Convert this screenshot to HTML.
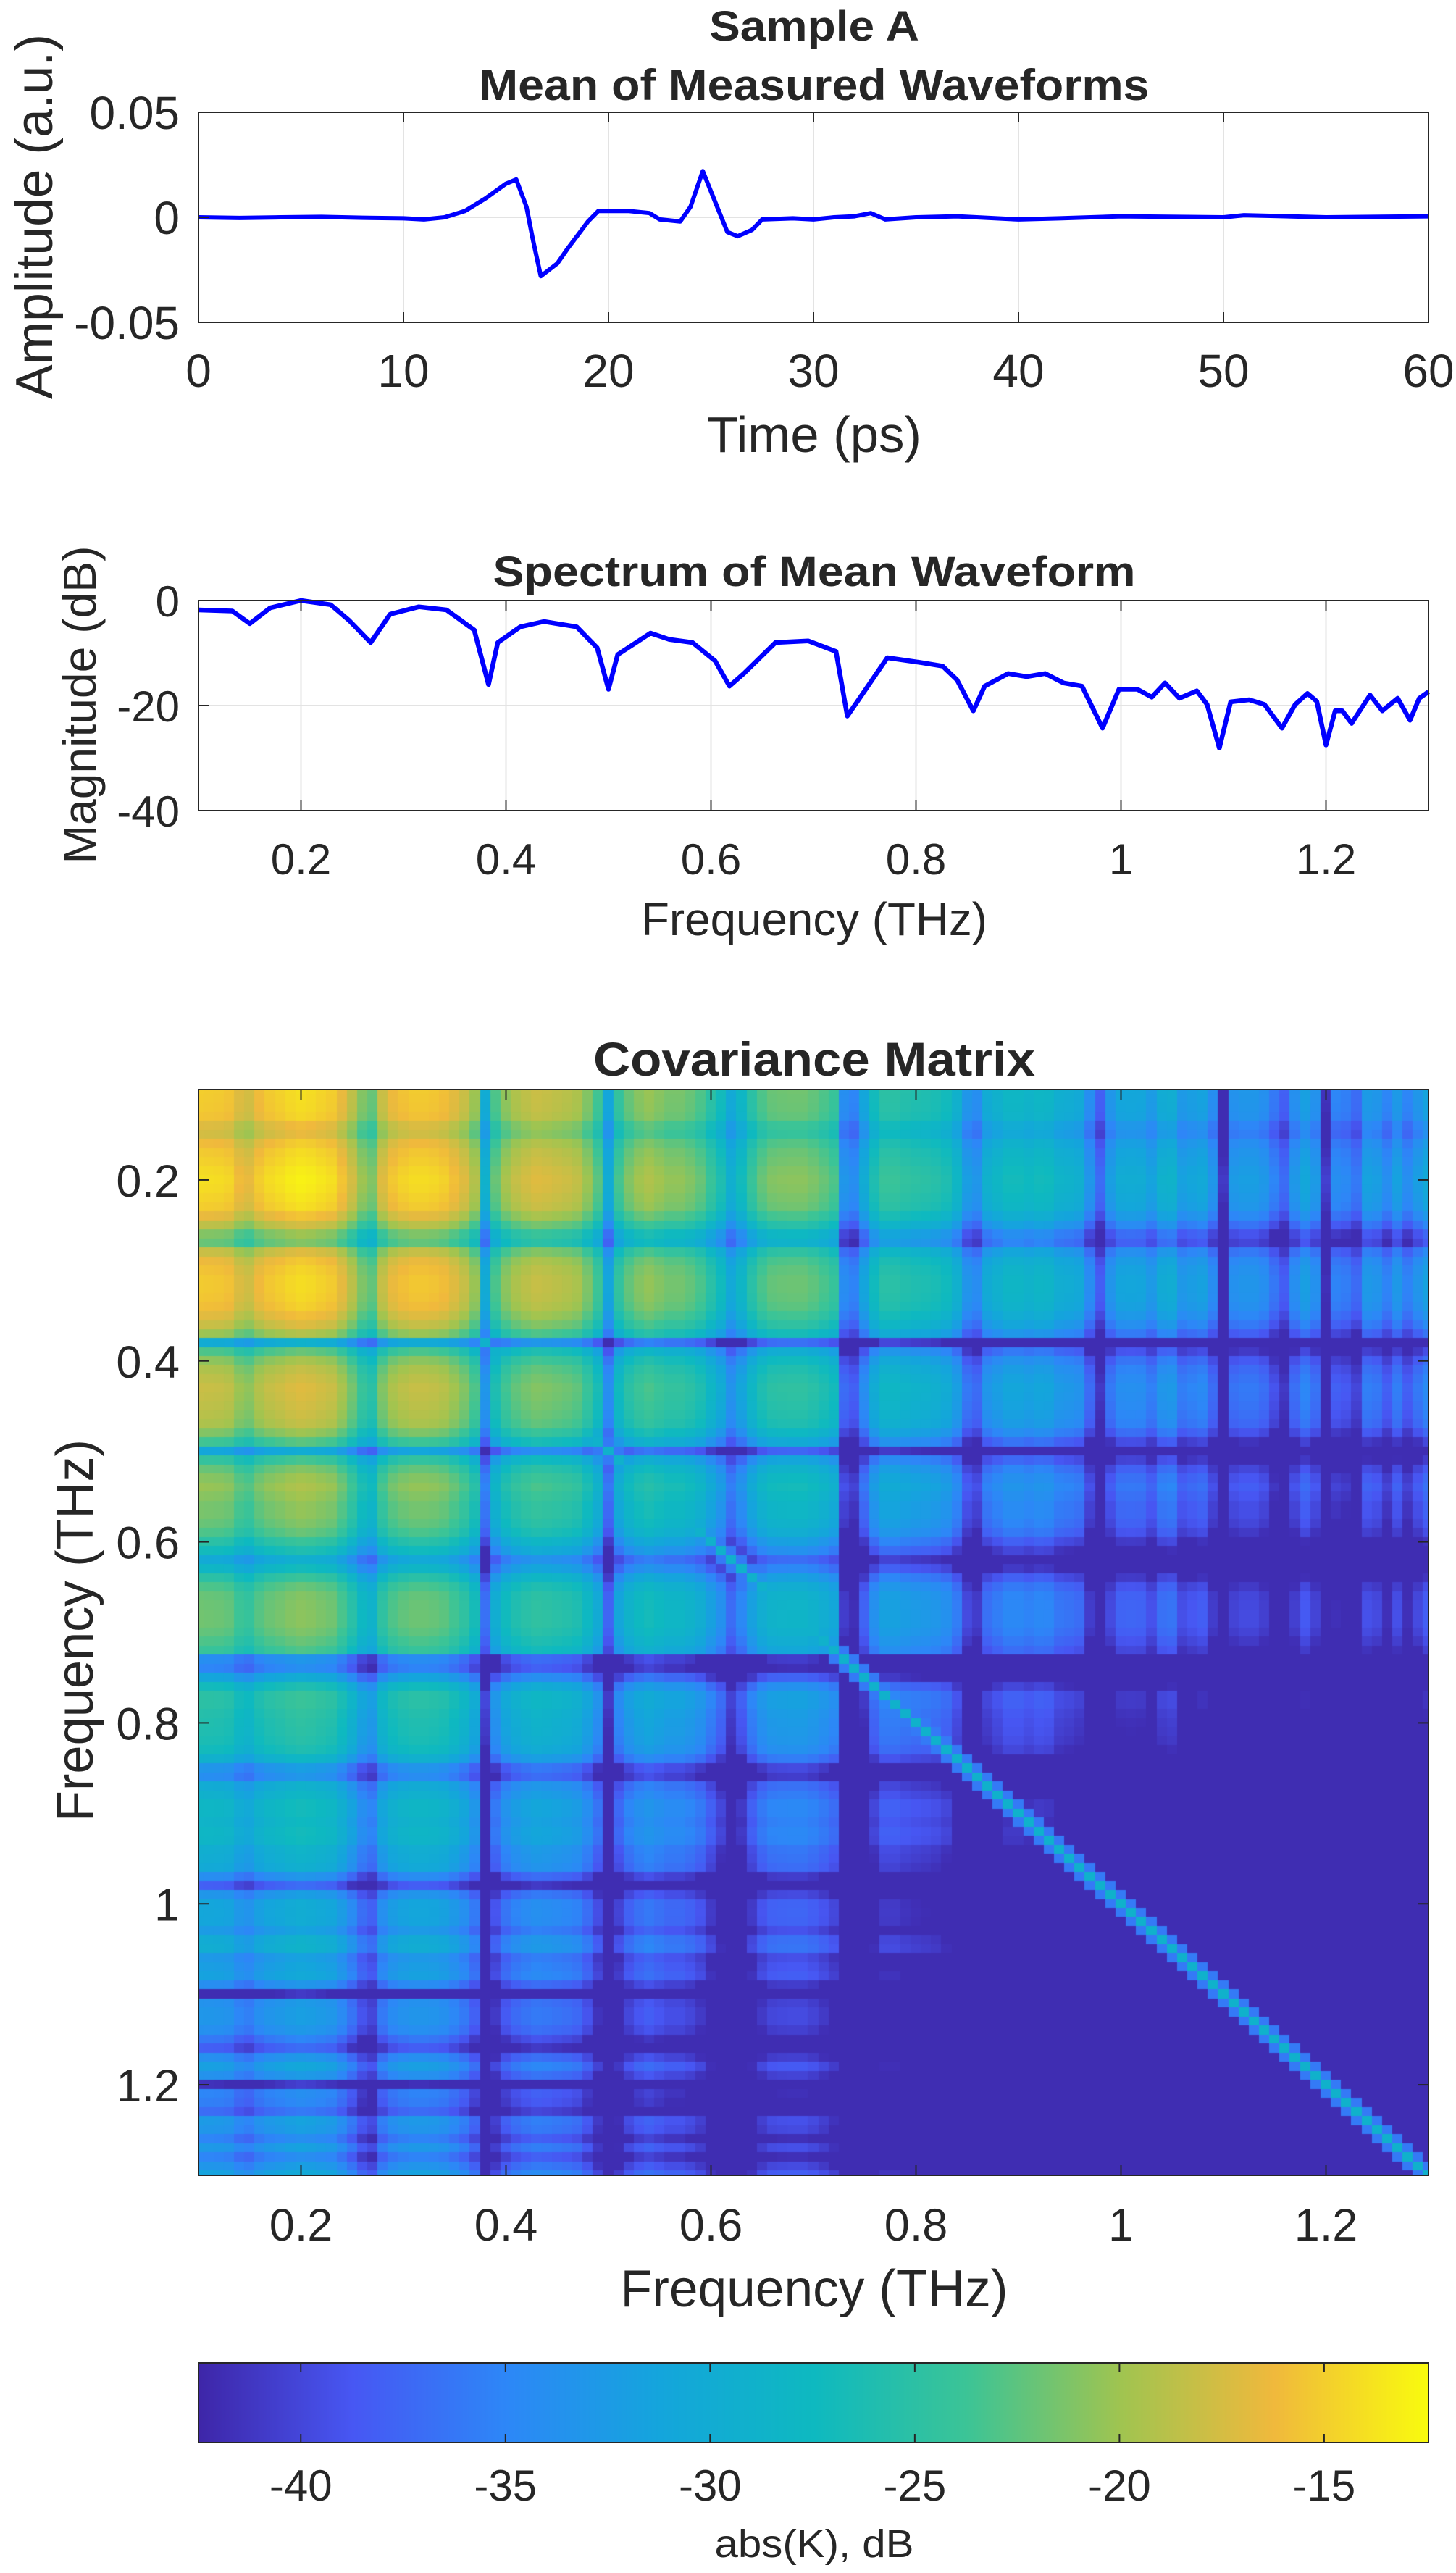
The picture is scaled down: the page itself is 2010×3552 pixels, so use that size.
<!DOCTYPE html>
<html><head><meta charset="utf-8"><style>
html,body{margin:0;padding:0;background:#fff;}
#wrap{position:relative;width:2010px;height:3552px;overflow:hidden;}
svg{position:absolute;left:0;top:0;}
canvas{position:absolute;}
text{font-family:"Liberation Sans",Arial,sans-serif;fill:#262626;}
</style></head><body>
<div id="wrap">
<canvas id="hm"></canvas>
<canvas id="cb"></canvas>
<svg id="svg" width="2010" height="3552"></svg>
</div>
<script>
// ---- Waveform data (ps, a.u.)
const waveTimes = [0,2,4,6,8,10,11,12,13,14,15,15.5,16,16.3,16.7,17.5,18,19,19.5,21,22,22.5,23.5,24,24.6,25.3,25.8,26.3,27,27.5,29,30,31,32,32.8,33.5,35,37,40,42,45,50,51,55,60];
const waveAmps = [0,-0.0003,0,0.0002,-0.0002,-0.0005,-0.001,0,0.003,0.009,0.016,0.018,0.005,-0.01,-0.028,-0.022,-0.015,-0.002,0.003,0.003,0.002,-0.001,-0.002,0.005,0.022,0.005,-0.007,-0.009,-0.006,-0.001,-0.0005,-0.001,0,0.0005,0.002,-0.001,0,0.0005,-0.001,-0.0005,0.0005,0,0.001,0,0.0005];
const waveXTicks = [0,10,20,30,40,50,60];
const waveYTicks = [-0.05,0,0.05];
const waveYTickLabels = ["-0.05","0","0.05"];
// ---- Spectrum data (THz, dB)
const specFreqs = [0.1,0.133,0.15,0.17,0.2,0.229,0.247,0.268,0.287,0.315,0.342,0.369,0.383,0.392,0.414,0.437,0.469,0.489,0.5,0.509,0.541,0.559,0.582,0.604,0.618,0.632,0.663,0.695,0.722,0.733,0.745,0.772,0.804,0.826,0.84,0.856,0.867,0.89,0.908,0.926,0.944,0.962,0.982,0.998,1.016,1.03,1.043,1.057,1.074,1.084,1.096,1.107,1.125,1.14,1.157,1.17,1.182,1.191,1.2,1.209,1.216,1.225,1.243,1.255,1.27,1.282,1.291,1.3];
const specDb = [-1.8,-2,-4.4,-1.4,0,-0.8,-3.8,-8,-2.6,-1.2,-1.8,-5.6,-16,-8,-5,-4,-5,-9,-16.9,-10.3,-6.2,-7.4,-8,-11.5,-16.3,-13.9,-8,-7.7,-9.7,-22,-18.6,-10.9,-11.8,-12.5,-15.1,-21,-16.3,-13.9,-14.5,-13.9,-15.7,-16.3,-24.3,-16.9,-16.9,-18.4,-15.7,-18.6,-17.2,-19.8,-28.1,-19.3,-18.9,-19.8,-24.3,-19.8,-17.7,-19.2,-27.5,-21,-21,-23.4,-18,-21,-18.6,-22.8,-18.6,-17.4];
const freqTicks = [0.2,0.4,0.6,0.8,1.0,1.2];
const freqTickLabels = ["0.2","0.4","0.6","0.8","1","1.2"];
const specYTicks = [-40,-20,0];
// ---- Covariance per-frequency levels (spectral dB at 0.01 THz from 0.10 to 1.30)
const covFreqStart = 0.1, covFreqStep = 0.01;
const covLevels = [-1,-1.1,-1.2,-1.5,-3,-3.5,-2,-1.2,-0.8,-0.3,0,-0.2,-0.6,-1,-2.5,-4.5,-7,-8,-4,-2.3,-1.6,-1.2,-1.2,-1.4,-1.8,-2.8,-4,-6,-16,-9,-6.5,-5.2,-4.5,-4,-4.2,-4.5,-4.8,-5.3,-7,-9.5,-16.9,-10.3,-8,-6.8,-6.2,-6.8,-7.4,-7.4,-8,-9,-11,-13,-16.3,-14,-11,-9,-8,-7.8,-7.7,-7.7,-8.2,-9,-10,-20,-21,-17,-13,-11,-11,-11.5,-11.8,-12,-12.3,-13,-15,-19,-20,-16,-15,-14,-14,-14.5,-14,-14.2,-15.5,-15.8,-16.3,-20,-24,-19,-17,-16.9,-17,-18.4,-16,-15.7,-18.6,-18,-17.5,-20,-28,-19.5,-19,-19,-19.8,-22,-24,-19.8,-17.8,-19.5,-27.5,-21,-21.5,-23,-18.5,-19,-21,-18.6,-21,-19,-17.4];
const covPeakDb = -13, covDiagDb = -29;
const cbarTicks = [-40,-35,-30,-25,-20,-15];
const cbarMin = -42.5, cbarMax = -12.45;

const NS="http://www.w3.org/2000/svg";
const svg=document.getElementById('svg');
function mk(tag,attrs,parent){const e=document.createElementNS(NS,tag);for(const k in attrs)e.setAttribute(k,attrs[k]);(parent||svg).appendChild(e);return e;}
function txt(s,x,y,size,opts){opts=opts||{};const e=mk('text',{x:x,y:y,'font-size':size,'text-anchor':opts.anchor||'middle'});if(opts.bold)e.setAttribute('font-weight','bold');if(opts.len){e.setAttribute('textLength',opts.len);e.setAttribute('lengthAdjust','spacingAndGlyphs');}if(opts.rot)e.setAttribute('transform','rotate(-90 '+x+' '+y+')');if(opts.fill)e.setAttribute('fill',opts.fill);e.textContent=s;return e;}

const par=[[0,62,38,168],[0.125,71,87,243],[0.25,45,135,247],[0.375,20,165,220],[0.5,14,185,192],[0.625,60,196,150],[0.75,160,196,80],[0.875,240,185,60],[1,249,251,14]];
function parula(t){t=Math.max(0,Math.min(1,t));for(let i=1;i<par.length;i++){if(t<=par[i][0]){const a=par[i-1],b=par[i],u=(t-a[0])/(b[0]-a[0]);return 'rgb('+Math.round(a[1]+u*(b[1]-a[1]))+','+Math.round(a[2]+u*(b[2]-a[2]))+','+Math.round(a[3]+u*(b[3]-a[3]))+')';}}return 'rgb(249,251,14)';}

// ===== Plot 1
const p1={l:274,r:1972,t:155,b:445};
const x1=t=>p1.l+(t-0)/60*(p1.r-p1.l);
const y1=v=>p1.b-(v+0.05)/0.1*(p1.b-p1.t);
let g=mk('g',{});
waveXTicks.forEach(t=>{const l=mk('line',{x1:x1(t),x2:x1(t),y1:p1.t,y2:p1.b,stroke:'#e3e3e3','stroke-width':2},g);});
mk('line',{x1:p1.l,x2:p1.r,y1:y1(0),y2:y1(0),stroke:'#e3e3e3','stroke-width':2},g);
let d='';waveTimes.forEach((t,i)=>{d+=(i?'L':'M')+x1(t).toFixed(1)+' '+y1(waveAmps[i]).toFixed(1);});
let pl=mk('path',{d:d,fill:'none',stroke:'#0000ff','stroke-width':6,'stroke-linejoin':'round'},g);

mk('rect',{x:p1.l,y:p1.t,width:p1.r-p1.l,height:p1.b-p1.t,fill:'none',stroke:'#262626','stroke-width':2},g);
waveXTicks.forEach(t=>{mk('line',{x1:x1(t),x2:x1(t),y1:p1.b,y2:p1.b-14,stroke:'#262626','stroke-width':2},g);mk('line',{x1:x1(t),x2:x1(t),y1:p1.t,y2:p1.t+14,stroke:'#262626','stroke-width':2},g);
 const e=txt(String(t),x1(t),534,64,{});});
waveYTicks.forEach((v,i)=>{mk('line',{x1:p1.l,x2:p1.l+14,y1:y1(v),y2:y1(v),stroke:'#262626','stroke-width':2},g);
 const e=txt(waveYTickLabels[i],248,y1(v)+23,64,{anchor:'end'});});
let e;
e=txt('Sample A',1124,56,58,{bold:true,len:290,fill:'#000'});
e=txt('Mean of Measured Waveforms',1124,138,60,{bold:true,len:925,fill:'#000'});
e=txt('Time (ps)',1124,624,70,{len:296});
e=txt('Amplitude (a.u.)',72,299,72,{rot:true,len:504});

// ===== Plot 2
const p2={l:274,r:1972,t:829,b:1119};
const x2=f=>p2.l+(f-0.1)/1.2*(p2.r-p2.l);
const y2=v=>p2.t+(0-v)/40*(p2.b-p2.t);
g=mk('g',{});
freqTicks.forEach(f=>{mk('line',{x1:x2(f),x2:x2(f),y1:p2.t,y2:p2.b,stroke:'#e3e3e3','stroke-width':2},g);});
specYTicks.forEach(v=>{mk('line',{x1:p2.l,x2:p2.r,y1:y2(v),y2:y2(v),stroke:'#e3e3e3','stroke-width':2},g);});
d='';specFreqs.forEach((f,i)=>{d+=(i?'L':'M')+x2(f).toFixed(1)+' '+y2(specDb[i]).toFixed(1);});
pl=mk('path',{d:d,fill:'none',stroke:'#0000ff','stroke-width':6.5,'stroke-linejoin':'round'},g);

mk('rect',{x:p2.l,y:p2.t,width:p2.r-p2.l,height:p2.b-p2.t,fill:'none',stroke:'#262626','stroke-width':2},g);
freqTicks.forEach((f,i)=>{mk('line',{x1:x2(f),x2:x2(f),y1:p2.b,y2:p2.b-14,stroke:'#262626','stroke-width':2},g);mk('line',{x1:x2(f),x2:x2(f),y1:p2.t,y2:p2.t+14,stroke:'#262626','stroke-width':2},g);
 const e=txt(freqTickLabels[i],x2(f),1207,60,{});});
specYTicks.forEach(v=>{mk('line',{x1:p2.l,x2:p2.l+14,y1:y2(v),y2:y2(v),stroke:'#262626','stroke-width':2},g);
 const e=txt(String(v),248,y2(v)+22,60,{anchor:'end'});});
e=txt('Spectrum of Mean Waveform',1124,809,58,{bold:true,len:887,fill:'#000'});
e=txt('Frequency (THz)',1124,1291,64,{len:478});
e=txt('Magnitude (dB)',132,973,64,{rot:true,len:439});

// ===== Heatmap
const hm={l:274,r:1972,t:1504,b:3003};
const cv=document.getElementById('hm');
cv.width=hm.r-hm.l;cv.height=hm.b-hm.t;cv.style.left=hm.l+'px';cv.style.top=hm.t+'px';
const ctx=cv.getContext('2d');
const hx=f=>(f-0.1)/1.2*(hm.r-hm.l);
const hy=f=>(f-0.1)/1.2*(hm.b-hm.t);
const n=covLevels.length;
for(let i=0;i<n;i++){for(let j=0;j<n;j++){
 let v=covPeakDb+(covLevels[i]+covLevels[j]);
 if(i===j)v=Math.max(v,covDiagDb);
 else if(Math.abs(i-j)===1)v=Math.max(v,covDiagDb-7);
 v=Math.max(v,cbarMin+0.5);
 ctx.fillStyle=parula((v-cbarMin)/(cbarMax-cbarMin));
 const fx=covFreqStart+j*covFreqStep, fy=covFreqStart+i*covFreqStep;
 const x0=hx(fx-covFreqStep/2),x1_=hx(fx+covFreqStep/2),y0=hy(fy-covFreqStep/2),y1_=hy(fy+covFreqStep/2);
 ctx.fillRect(Math.floor(x0),Math.floor(y0),Math.ceil(x1_-x0)+1,Math.ceil(y1_-y0)+1);
}}
g=mk('g',{});
mk('rect',{x:hm.l,y:hm.t,width:hm.r-hm.l,height:hm.b-hm.t,fill:'none',stroke:'#262626','stroke-width':2},g);
freqTicks.forEach((f,i)=>{const X=hm.l+hx(f),Y=hm.t+hy(f);
 mk('line',{x1:X,x2:X,y1:hm.b,y2:hm.b-14,stroke:'#262626','stroke-width':2},g);mk('line',{x1:X,x2:X,y1:hm.t,y2:hm.t+14,stroke:'#262626','stroke-width':2},g);
 mk('line',{x1:hm.l,x2:hm.l+14,y1:Y,y2:Y,stroke:'#262626','stroke-width':2},g);mk('line',{x1:hm.r,x2:hm.r-14,y1:Y,y2:Y,stroke:'#262626','stroke-width':2},g);
 let e=txt(freqTickLabels[i],X,3093,63,{});
 e=txt(freqTickLabels[i],248,Y+23,63,{anchor:'end'});});
e=txt('Covariance Matrix',1124,1485,66,{bold:true,len:610,fill:'#000'});
e=txt('Frequency (THz)',1124,3184,72,{len:535});
e=txt('Frequency (THz)',128,2251,72,{rot:true,len:528});

// ===== Colorbar
const cb={l:274,r:1972,t:3262,b:3372};
const cc=document.getElementById('cb');
cc.width=cb.r-cb.l;cc.height=cb.b-cb.t;cc.style.left=cb.l+'px';cc.style.top=cb.t+'px';
const c2=cc.getContext('2d');
for(let x=0;x<cc.width;x++){c2.fillStyle=parula(x/(cc.width-1));c2.fillRect(x,0,1,cc.height);}
const cx=v=>cb.l+(v-cbarMin)/(cbarMax-cbarMin)*(cb.r-cb.l);
g=mk('g',{});
mk('rect',{x:cb.l,y:cb.t,width:cb.r-cb.l,height:cb.b-cb.t,fill:'none',stroke:'#262626','stroke-width':2},g);
cbarTicks.forEach(v=>{const X=cx(v);mk('line',{x1:X,x2:X,y1:cb.b,y2:cb.b-12,stroke:'#262626','stroke-width':2},g);mk('line',{x1:X,x2:X,y1:cb.t,y2:cb.t+12,stroke:'#262626','stroke-width':2},g);
 const e=txt(String(v),X,3452,60,{});});
e=txt('abs(K), dB',1124,3530,54,{len:275});
</script>
</body></html>
